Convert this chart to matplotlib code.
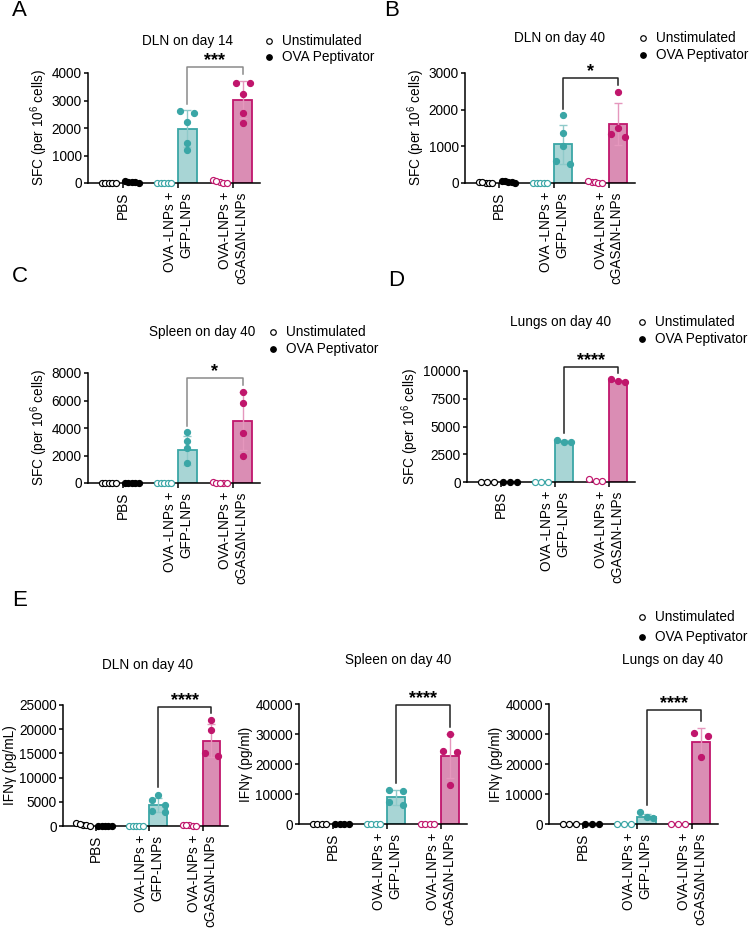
import numpy as np
import matplotlib
matplotlib.use('Agg')
import matplotlib.pyplot as plt
from matplotlib.lines import Line2D

plt.rcParams['font.family'] = ['Liberation Sans', 'DejaVu Sans']
plt.rcParams['mathtext.fontset'] = 'custom'
plt.rcParams['mathtext.rm'] = 'Liberation Sans'
plt.rcParams['mathtext.it'] = 'Liberation Sans:italic'
plt.rcParams['axes.linewidth'] = 1.1

W, H = 756, 934

################################################################################
# data  (order: PBS unstim, PBS stim, GFP unstim, GFP stim, cGAS unstim, cGAS stim)
################################################################################
labels_sfc = ['PBS', 'OVA -LNPs +\nGFP-LNPs', 'OVA-LNPs +\ncGASΔN-LNPs']
labels_ifn = ['PBS', 'OVA-LNPs +\nGFP-LNPs', 'OVA-LNPs +\ncGASΔN-LNPs']

# A - DLN day 14
a_points = [[0, 0, 0, 0, 0], [40, 60, 30, 20, 10], [0, 0, 0, 0, 0],
            [2620, 2560, 2220, 1470, 1190], [20, 100, 60, 10, 0],
            [3650, 3640, 3220, 2550, 2190]]
a_means = [0, 30, 0, 1980, 40, 3030]
a_sds = [0, 20, 0, 670, 40, 680]

# B - DLN day 40
b_points = [[10, 30, 0, 20, 0], [50, 60, 30, 20, 10], [0, 0, 0, 0, 0],
            [1850, 1360, 1010, 600, 520], [30, 60, 20, 10, 0],
            [2480, 1510, 1350, 1260]]
b_means = [10, 35, 0, 1055, 25, 1620]
b_sds = [12, 20, 0, 540, 25, 570]

# C - spleen day 40
c_points = [[0, 0, 0, 0, 0], [0, 20, 0, 10, 0], [0, 0, 0, 0, 0],
            [3700, 3050, 2550, 1480], [0, 40, 20, 0, 10],
            [6620, 5840, 3640, 1960]]
c_means = [0, 10, 0, 2390, 10, 4490]
c_sds = [0, 10, 0, 1050, 10, 2100]

# D - lungs day 40
d_points = [[0, 0, 0], [0, 0, 0], [0, 0, 0],
            [3560, 3800, 3560], [60, 270, 120], [9040, 9250, 9100]]
d_means = [0, 0, 0, 3640, 150, 9130]
d_sds = [0, 0, 0, 140, 105, 100]

# E - IFNg ELISA, day 40
e1_points = [[300, 600, 150, 450, 100], [100, 50, 80, 30, 60], [0, 0, 0, 0, 0],
             [6500, 5300, 4300, 3100, 2900], [150, 300, 100, 200, 50],
             [21900, 19800, 15000, 14500]]
e1_means = [320, 65, 0, 4340, 160, 17630]
e1_sds = [200, 30, 0, 1400, 100, 3400]

e2_points = [[0, 0, 0, 0], [100, 0, 150, 50], [0, 0, 0, 0],
             [11300, 11000, 7300, 6400], [0, 0, 0, 0],
             [30000, 24300, 23900, 13000]]
e2_means = [0, 80, 0, 8900, 0, 22670]
e2_sds = [0, 60, 0, 2500, 0, 7200]

e3_points = [[0, 0, 0], [0, 0, 0], [0, 0, 0],
             [3900, 2400, 2100], [0, 0, 0], [30500, 29200, 22500]]
e3_means = [0, 0, 0, 2470, 0, 27200]
e3_sds = [0, 0, 0, 900, 0, 4700]

################################################################################
# style
################################################################################
teal, teal_fill, teal_err = '#3AA6A6', '#A8D5D5', '#8FCACA'
mag, mag_fill, mag_err = '#C0166C', '#DA8DB4', '#E597BD'
edge_cols = ['k', 'k', teal, teal, mag, mag]
fill_cols = ['white', 'white', teal_fill, teal_fill, mag_fill, mag_fill]
err_cols = ['k', 'k', teal_err, teal_err, mag_err, mag_err]
pos = [0, 1, 2.4, 3.4, 4.8, 5.8]
ticks = [0.6, 3.0, 5.4]
FS = 9.8

fig = plt.figure(figsize=(W / 100, H / 100), dpi=100)


def spread(vals, ymax, hpx, d=5.5, w=0.3):
    # simple row swarm: points that sit within d px get spread over the bar
    ypx = np.asarray(vals, float) / ymax * hpx
    order = np.argsort(-ypx)
    offs = np.zeros(len(ypx))
    rows = []
    for i in order:
        if rows and abs(ypx[rows[-1][0]] - ypx[i]) < d:
            rows[-1].append(i)
        else:
            rows.append([i])
    for row in rows:
        if len(row) > 1:
            offs[row] = np.linspace(-w, w, len(row))
    return offs


def panel(rect, pts, means, sds, ymax, ystep, ylabel, xlabels, bfrac, bcol, stars):
    l, r, t, b = rect
    ax = fig.add_axes([l / W, 1 - b / H, (r - l) / W, (b - t) / H])
    ax.set_xlim(-0.9, 6.55)
    ax.set_ylim(0, ymax)
    for i in range(6):
        x = pos[i]
        if i in (3, 5):
            ax.bar(x, means[i], width=0.8, color=fill_cols[i], edgecolor=edge_cols[i],
                   linewidth=1.3, zorder=2)
            ax.errorbar(x, means[i], yerr=sds[i], fmt='none', ecolor=err_cols[i],
                        elinewidth=1.0, capsize=3.2, capthick=1.0, zorder=3)
        offs = spread(pts[i], ymax, b - t)
        fc = edge_cols[i] if i % 2 == 1 else 'white'
        ax.scatter(x + offs, pts[i], s=19, facecolors=fc, edgecolors=edge_cols[i],
                   linewidths=0.85, zorder=4, clip_on=False)
    # significance bracket
    gap = 0.06 * ymax
    x1, x2 = pos[3], pos[5]
    top1 = max(max(pts[3]), means[3] + sds[3]) + gap
    top2 = max(max(pts[5]), means[5] + sds[5]) + gap
    by = bfrac * ymax
    ax.plot([x1, x1, x2, x2], [top1, by, by, top2], color=bcol, lw=1.1,
            clip_on=False, zorder=5)
    ax.annotate(stars, xy=((x1 + x2) / 2, by), xytext=(0, 1.0),
                textcoords='offset points', ha='center', va='baseline',
                fontsize=13, fontweight='bold', annotation_clip=False)

    ax.spines['top'].set_visible(False)
    ax.spines['right'].set_visible(False)
    ax.set_yticks(np.arange(0, ymax + 1, ystep))
    ax.tick_params(axis='y', length=3, width=1.1, labelsize=FS, pad=1.5)
    ax.set_xticks(ticks)
    ax.set_xticklabels(xlabels, rotation=90, ha='center', va='top',
                       multialignment='right', fontsize=FS)
    ax.tick_params(axis='x', length=3.5, width=1.1, pad=3)
    ax.set_ylabel(ylabel, fontsize=FS, labelpad=1.5)
    return ax


def legend_at(xm, y1, y2):
    for yy, filled, txt in [(y1, False, 'Unstimulated'), (y2, True, 'OVA Peptivator')]:
        fig.add_artist(Line2D([xm / W], [1 - yy / H], marker='o', ms=4.0,
                              mfc='k' if filled else 'white', mec='k', mew=0.85,
                              ls='none'))
        fig.text((xm + 13) / W, 1 - yy / H, txt, va='center', fontsize=FS)


def title_at(x, y, txt):
    fig.text(x / W, 1 - y / H, txt, ha='center', va='center', fontsize=FS)


def letter_at(x, y, txt):
    fig.text(x / W, 1 - y / H, txt, ha='left', va='center', fontsize=16)


sfc = 'SFC (per 10$^{\\mathregular{6}}$ cells)'

panel((88, 260, 73, 183), a_points, a_means, a_sds, 4000, 1000, sfc, labels_sfc,
      1.055, '#8A8A8A', '***')
panel((465, 635, 73, 183), b_points, b_means, b_sds, 3000, 1000, sfc, labels_sfc,
      0.957, '#222222', '*')
panel((88, 260, 373, 483), c_points, c_means, c_sds, 8000, 2000, sfc, labels_sfc,
      0.957, '#8A8A8A', '*')
panel((467, 635, 371, 482), d_points, d_means, d_sds, 10000, 2500, sfc, labels_sfc,
      1.039, '#222222', '****')
panel((63, 228, 705, 826), e1_points, e1_means, e1_sds, 25000, 5000,
      'IFNγ (pg/mL)', labels_ifn, 0.986, '#222222', '****')
panel((299, 467, 704, 824), e2_points, e2_means, e2_sds, 40000, 10000,
      'IFNγ (pg/ml)', labels_ifn, 0.992, '#222222', '****')
panel((549, 718, 704, 824), e3_points, e3_means, e3_sds, 40000, 10000,
      'IFNγ (pg/ml)', labels_ifn, 0.953, '#222222', '****')

title_at(187, 41, 'DLN on day 14')
title_at(560, 38, 'DLN on day 40')
title_at(202, 332, 'Spleen on day 40')
title_at(560, 322, 'Lungs on day 40')
title_at(148, 665, 'DLN on day 40')
title_at(398, 660, 'Spleen on day 40')
title_at(672, 660, 'Lungs on day 40')

legend_at(269, 41, 57)
legend_at(643, 38, 55)
legend_at(273, 332, 349)
legend_at(642, 322, 339)
legend_at(642, 617, 637)

letter_at(12, 11, 'A')
letter_at(384, 10, 'B')
letter_at(12, 277, 'C')
letter_at(388, 280, 'D')
letter_at(12, 601, 'E')

fig.savefig('out.png', dpi=100)
